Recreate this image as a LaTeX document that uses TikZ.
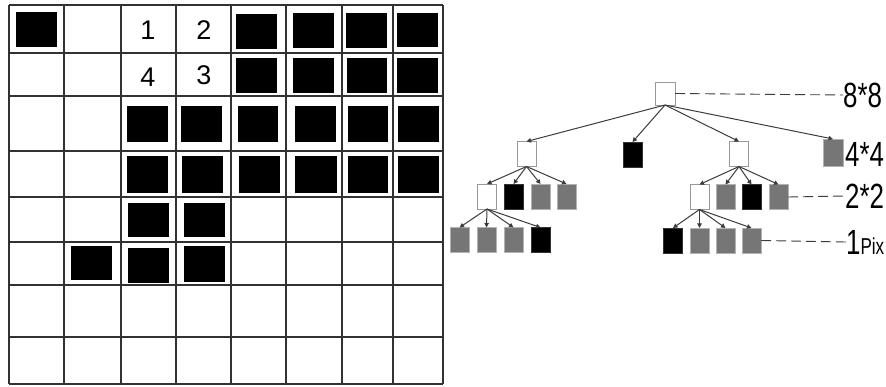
\documentclass[tikz,border=0pt]{standalone}
\usepackage{fontspec}
\setmainfont{Liberation Sans}
\usetikzlibrary{arrows.meta}
\definecolor{midgray}{RGB}{118,118,118}
\definecolor{gridline}{RGB}{50,50,50}
\definecolor{edgecol}{RGB}{60,60,60}
\tikzset{
  gridl/.style={draw=gridline, line width=1.1pt},
  blk/.style={fill=black},
  tb/.style={draw=gray!80, line width=0.9pt, minimum width=19pt, minimum height=25pt, inner sep=0pt, outer sep=0pt},
  wbox/.style={tb, fill=white},
  bbox/.style={tb, fill=black, draw=black!80},
  gbox/.style={tb, fill=midgray, draw=gray!60},
  edg/.style={draw=edgecol, line width=1pt, -{Triangle[length=4.5pt,width=4.5pt]}},
  dsh/.style={draw=edgecol, line width=0.9pt, dash pattern=on 10pt off 5pt},
  digit/.style={font=\fontsize{27}{27}\selectfont, inner sep=0pt},
  lab/.style={anchor=west, inner sep=0pt, font=\fontsize{35}{35}\selectfont},
}
\begin{document}
\begin{tikzpicture}[x=1pt,y=-1pt]
\useasboundingbox (0,0) rectangle (886,387);
\fill[white] (0,0) rectangle (886,387);
% grid
\foreach \xx in {9,64,121,176,231,286,342,393,443} \draw[gridl] (\xx,5) -- (\xx,384);
\foreach \yy in {5,53,96,151,197,242,285,337,384} \draw[gridl] (9,\yy) -- (443,\yy);
% black cells
\foreach \a/\b/\c/\d in {16/12/57/47, 236/14/277/49, 293/13/334/48, 346/13/387/48, 397/13/438/47,
  236/58/277/93, 293/58/334/93, 347/58/387/93, 397/58/438/93,
  127/106/168/142, 181/106/222/142, 238/106/278/142, 295/106/336/142, 348/106/388/142, 398/106/439/142,
  127/156/168/193, 182/156/223/193, 239/156/280/193, 295/156/337/193, 348/156/388/193, 398/156/439/193,
  128/203/169/237, 184/203/225/237,
  71/246/112/280, 128/248/169/283, 184/246/225/282}
  \fill[blk] (\a,\b) rectangle (\c,\d);
\node[digit] (d1) at (148,30) {1};
\node[digit] (d2) at (204,30) {2};
\node[digit] (d4) at (148,77) {4};
\node[digit] (d3) at (204,75) {3};
% tree
\node[wbox, minimum width=20pt, minimum height=23pt] (root) at (665,93.5) {};
\node[wbox] (a1) at (526.5,154) {};
\node[bbox] (a2) at (632.5,154.5) {};
\node[wbox] (a3) at (739,154) {};
\node[gbox, minimum width=20pt, minimum height=27pt] (a4) at (833,152.5) {};
\node[wbox] (b1) at (487,196.5) {};
\node[bbox] (b2) at (513.5,196.5) {};
\node[gbox] (b3) at (540.5,196.5) {};
\node[gbox] (b4) at (566.5,196.5) {};
\node[wbox] (c1) at (699.5,197) {};
\node[gbox] (c2) at (725.5,197) {};
\node[bbox] (c3) at (751.5,197) {};
\node[gbox] (c4) at (778.5,197) {};
\node[gbox] (e1) at (459.5,240) {};
\node[gbox] (e2) at (486.5,240) {};
\node[gbox] (e3) at (513.5,240) {};
\node[bbox] (e4) at (540.5,240) {};
\node[bbox] (f1) at (673,240.5) {};
\node[gbox] (f2) at (699.5,240.5) {};
\node[gbox] (f3) at (725.5,240.5) {};
\node[gbox] (f4) at (751.5,240.5) {};
\foreach \c in {a1,a2,a3,a4} \draw[edg] (root.south) -- (\c.north);
\foreach \c in {b1,b2,b3,b4} \draw[edg] (a1.south) -- (\c.north);
\foreach \c in {c1,c2,c3,c4} \draw[edg] (a3.south) -- (\c.north);
\foreach \c in {e1,e2,e3,e4} \draw[edg] (b1.south) -- (\c.north);
\foreach \c in {f1,f2,f3,f4} \draw[edg] (c1.south) -- (\c.north);
% labels
\node[lab] (l8) at (843,95) {\scalebox{0.74}[1]{8*8}};
\node[lab] (l4) at (845,154) {\scalebox{0.74}[1]{4*4}};
\node[lab] (l2) at (845,196) {\scalebox{0.74}[1]{2*2}};
\node[lab] (l1) at (846,242) {\scalebox{0.74}[1]{1\fontsize{23}{23}\selectfont Pix}};
\draw[dsh] (root.east) -- (l8.west);
\draw[dsh] (c4.east) -- (l2.west);
\draw[dsh] (f4.east) -- (l1.west);
\end{tikzpicture}
\end{document}
